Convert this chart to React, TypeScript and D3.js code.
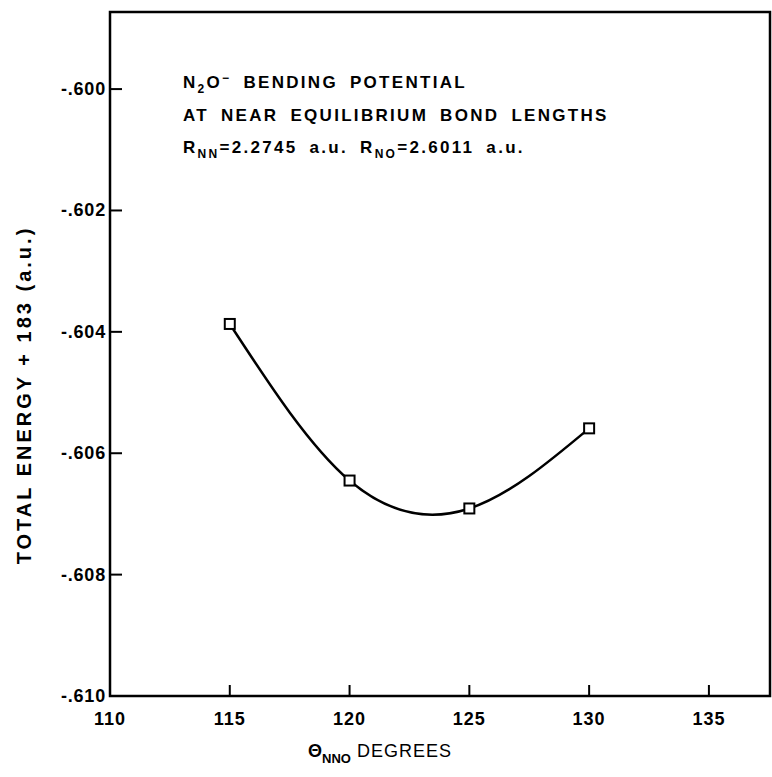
import React from "react";
import * as d3 from "d3";

const angles = [115, 120, 125, 130];
const energies = [-0.60387, -0.60645, -0.60691, -0.60559];
const xTicks = [110, 115, 120, 125, 130, 135];
const xTickLabels = ["110", "115", "120", "125", "130", "135"];
const yTicks = [-0.6, -0.602, -0.604, -0.606, -0.608, -0.61];
const yTickLabels = ["-.600", "-.602", "-.604", "-.606", "-.608", "-.610"];

const W = 772;
const H = 777;
const left = 110;
const right = 770;
const top = 12;
const bottom = 696;

export default function App() {
  const x = d3.scaleLinear().domain([110, 137.55]).range([left, right]);
  const y = d3.scaleLinear().domain([-0.61, -0.59873]).range([bottom, top]);
  const pts: [number, number][] = angles.map((a, i) => [a, energies[i]]);
  const line = d3
    .line<[number, number]>()
    .x((d) => x(d[0]))
    .y((d) => y(d[1]))
    .curve(d3.curveNatural);
  const font = "'Liberation Sans', 'DejaVu Sans', sans-serif";
  return (
    <svg
      width={W}
      height={H}
      style={{ position: "absolute", left: 0, top: 0, background: "#fff" }}
      fontFamily={font}
      fontWeight="bold"
    >
      <rect x={0} y={0} width={W} height={H} fill="#fff" />
      <rect
        x={left}
        y={top}
        width={right - left}
        height={bottom - top}
        fill="none"
        stroke="#000"
        strokeWidth={2.5}
      />
      {yTicks.map((t, i) => (
        <g key={"y" + i}>
          <line x1={left} x2={left + 12} y1={y(t)} y2={y(t)} stroke="#000" strokeWidth={2} />
          <text x={left - 4} y={y(t) + 6} textAnchor="end" fontSize={18} letterSpacing={0.8}>
            {yTickLabels[i]}
          </text>
        </g>
      ))}
      {xTicks.map((t, i) => (
        <g key={"x" + i}>
          <line x1={x(t)} x2={x(t)} y1={bottom} y2={bottom - 11} stroke="#000" strokeWidth={2} />
          <text x={x(t)} y={bottom + 29} textAnchor="middle" fontSize={18} letterSpacing={1}>
            {xTickLabels[i]}
          </text>
        </g>
      ))}
      <path d={line(pts) || ""} fill="none" stroke="#000" strokeWidth={2.5} />
      {pts.map((p, i) => (
        <rect
          key={"m" + i}
          x={x(p[0]) - 5}
          y={y(p[1]) - 5}
          width={10}
          height={10}
          fill="#fff"
          stroke="#000"
          strokeWidth={2}
        />
      ))}
      <text
        transform={`translate(31, 395) rotate(-90)`}
        textAnchor="middle"
        fontSize={20}
        letterSpacing={3}
      >
        TOTAL ENERGY + 183 (a.u.)
      </text>
      <g fontSize={17} letterSpacing={2.3} wordSpacing={5}>
        <text x={183} y={88}>
          N<tspan fontSize={12} dy={5}>2</tspan>
          <tspan dy={-5}>O</tspan>
          <tspan fontSize={12} dy={-6}>−</tspan>
          <tspan dy={6}>{"  BENDING POTENTIAL"}</tspan>
        </text>
        <text x={183} y={121}>AT NEAR EQUILIBRIUM BOND LENGTHS</text>
        <text x={183} y={153}>
          R<tspan fontSize={12} dy={5}>NN</tspan>
          <tspan dy={-5}>{"=2.2745 a.u. R"}</tspan>
          <tspan fontSize={12} dy={5}>NO</tspan>
          <tspan dy={-5}>{"=2.6011 a.u."}</tspan>
        </text>
      </g>
      <text x={308} y={757} fontSize={18}>
        Θ<tspan fontSize={13} dy={6}>NNO</tspan>
        <tspan dy={-6} fontWeight="normal" letterSpacing={1}>{" DEGREES"}</tspan>
      </text>
    </svg>
  );
}
